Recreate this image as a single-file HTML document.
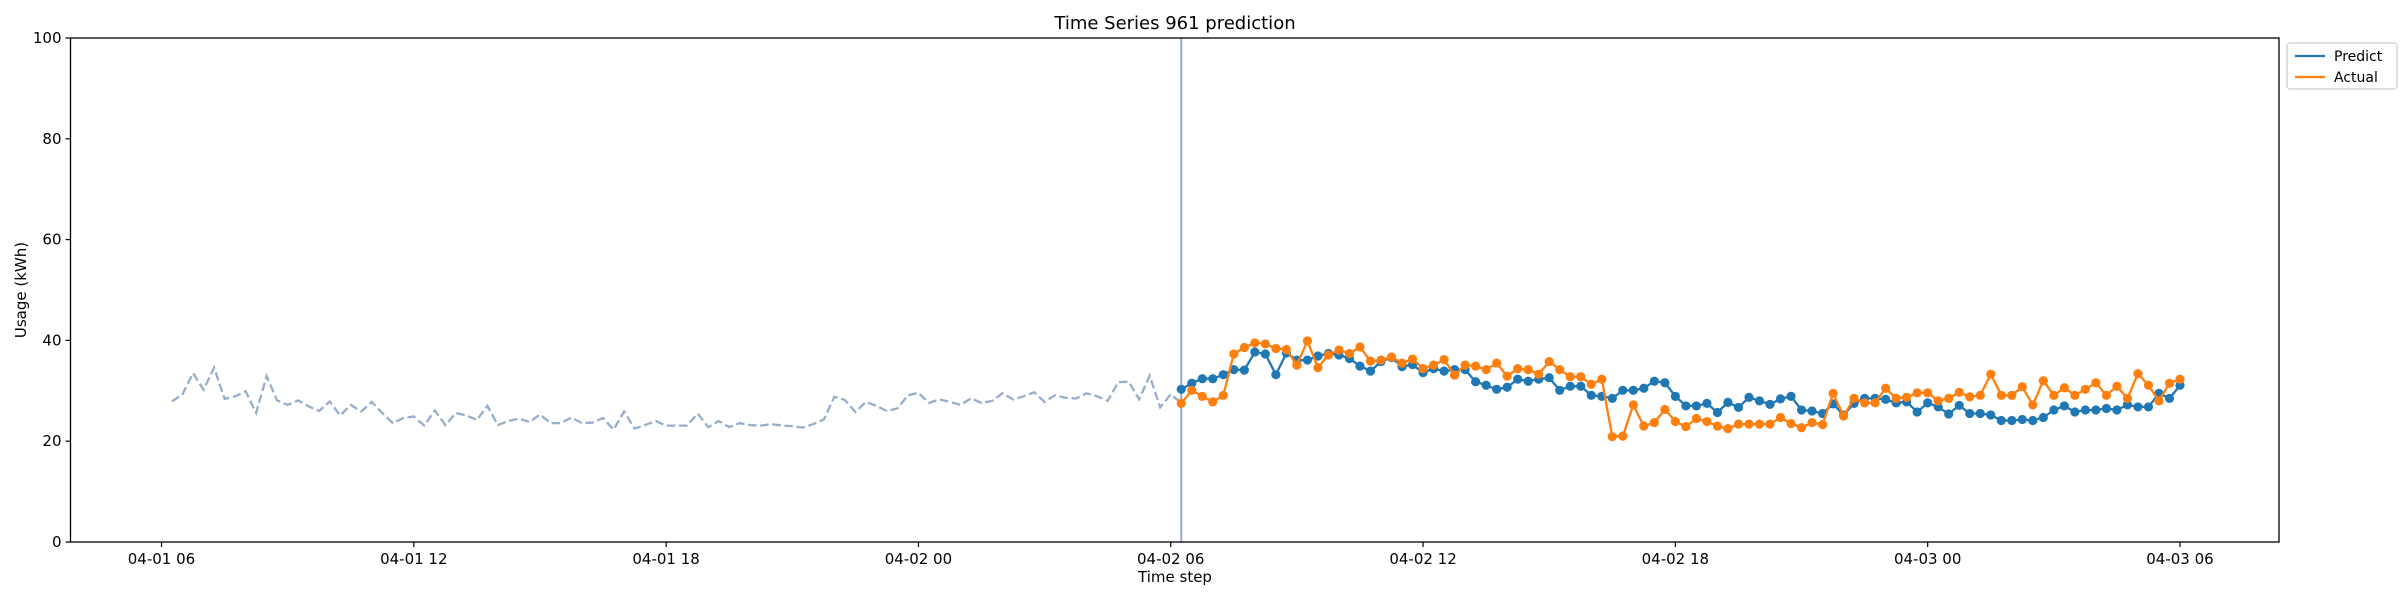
<!DOCTYPE html>
<html><head><meta charset="utf-8"><style>
html,body{margin:0;padding:0;background:#fff;}
svg{display:block;font-family:"DejaVu Sans","Liberation Sans",sans-serif;}
</style></head><body>
<svg id="chart" width="2400" height="600" viewBox="0 0 2400 600" xmlns="http://www.w3.org/2000/svg">
<rect width="2400" height="600" fill="#fff"/>
<text x="1175" y="29" font-size="18" text-anchor="middle">Time Series 961 prediction</text>
<g id="plot"></g>
<g id="axes"></g>
<text x="1175" y="582" font-size="15" text-anchor="middle">Time step</text>
<text x="0" y="0" font-size="15" text-anchor="middle" transform="translate(26,290) rotate(-90)">Usage (kWh)</text>
<g>
<rect x="2287" y="43" width="110" height="46" rx="3" fill="#fff" stroke="#ccc" stroke-width="1.2"/>
<g>
<line x1="2295" y1="56" x2="2325" y2="56" stroke="#1f77b4" stroke-width="2.3"/>
<text x="2334" y="61" font-size="14">Predict</text></g>
<g>
<line x1="2295" y1="77" x2="2325" y2="77" stroke="#ff7f0e" stroke-width="2.3"/>
<text x="2334" y="82" font-size="14">Actual</text></g>
</g>
</svg>
<script>
const historyValues=[27.9,29.3,33.5,30.2,34.6,28.4,28.9,29.9,25.6,32.9,28.1,27.2,28.1,26.9,26.0,27.9,25.1,27.2,25.9,27.8,25.6,23.6,24.6,24.9,23.1,26.1,23.2,25.6,25.1,24.2,27.0,23.2,24.0,24.5,23.8,25.3,23.6,23.6,24.7,23.6,23.7,24.6,22.3,25.9,22.5,23.2,24.0,23.1,23.1,23.1,25.5,22.8,24.0,22.8,23.6,23.2,23.1,23.4,23.1,23.0,
22.7,23.4,24.3,28.8,28.2,25.8,27.8,27.0,26.0,26.5,29.1,29.6,27.6,28.3,27.8,27.2,28.5,27.6,28.0,29.5,28.3,28.9,29.7,27.8,29.1,28.6,28.5,29.5,28.9,28.0,31.7,31.8,28.3,33.0,26.7,29.3,27.6];
const predictValues=[30.3,31.5,32.4,32.4,33.2,34.2,34.1,37.7,37.3,33.2,37.5,36.1,36.1,36.9,37.4,37.1,36.4,34.9,33.9,35.8,36.6,34.8,35.2,33.6,34.4,33.9,34.2,34.2,31.8,31.1,30.3,30.7,32.3,31.9,32.3,32.6,30.1,30.9,30.9,29.1,28.9,28.5,30.1,30.1,30.5,31.9,31.6,28.9,27.0,27.0,27.5,25.7,27.7,26.7,28.7,28.0,27.3,28.4,28.9,26.2,26.0,25.5,27.4,25.2,27.5,28.5,28.5,28.3,27.6,27.8,25.8,27.6,26.8,25.4,27.1,25.5,25.5,25.2,24.1,24.1,24.3,24.1,24.7,26.2,27.0,25.8,26.2,26.2,26.5,26.2,27.2,26.8,26.8,29.5,28.5,31.1];
const actualValues=[27.5,30.1,28.9,27.8,29.1,37.3,38.6,39.5,39.3,38.4,38.2,35.1,39.9,34.6,37.1,38.1,37.4,38.7,35.9,36.1,36.7,35.5,36.3,34.4,35.1,36.2,33.1,35.1,34.9,34.2,35.5,32.9,34.4,34.2,33.3,35.8,34.2,32.8,32.8,31.3,32.3,20.9,21.0,27.2,23.0,23.7,26.3,23.9,22.9,24.5,23.9,23.0,22.5,23.4,23.4,23.4,23.4,24.7,23.5,22.7,23.7,23.3,29.5,25.0,28.5,27.6,27.6,30.5,28.5,28.7,29.6,29.6,28.0,28.5,29.7,28.8,29.1,33.3,29.1,29.1,30.8,27.2,32.0,29.1,30.6,29.1,30.3,31.6,29.1,30.9,28.5,33.4,31.1,28.0,31.5,32.3];
const xTickLabels=["04-01 06","04-01 12","04-01 18","04-02 00","04-02 06","04-02 12","04-02 18","04-03 00","04-03 06"];
const yTickLabels=[0,20,40,60,80,100];
const historyStart=1, forecastStart=97;

const L=70.5,R=2279,T=38,B=542;
const x=i=>161.5+i*10.513;
const y=v=>B-(v/100)*(B-T);
const NS="http://www.w3.org/2000/svg";
const plot=document.getElementById('plot'), axes=document.getElementById('axes');
function mk(tag,attrs,parent){const e=document.createElementNS(NS,tag);for(const k in attrs)e.setAttribute(k,attrs[k]);parent.appendChild(e);return e;}

const hp=historyValues.map((v,k)=>x(historyStart+k).toFixed(1)+','+y(v).toFixed(1)).join(' ');
const h=mk('polyline',{points:hp,fill:'none',stroke:'#97aecb','stroke-width':2.3,'stroke-dasharray':'8.5,3.7'},plot);



const vl=mk('line',{x1:x(forecastStart),x2:x(forecastStart),y1:T,y2:B,stroke:'#9aa8d0','stroke-width':2},plot);



function series(vals,color,name){
  const g=mk('g',{},plot);
  
  
  const pts=vals.map((v,k)=>x(forecastStart+k).toFixed(1)+','+y(v).toFixed(1)).join(' ');
  mk('polyline',{points:pts,fill:'none',stroke:color,'stroke-width':2.3},g);
  vals.forEach((v,k)=>{
    const c=mk('circle',{cx:x(forecastStart+k),cy:y(v),r:4.6,fill:color},g);
    
    
  });
}
series(predictValues,'#1f77b4','predict');
series(actualValues,'#ff7f0e','actual');

mk('rect',{x:L,y:T,width:R-L,height:B-T,fill:'none',stroke:'#000','stroke-width':1.3},axes);
xTickLabels.forEach((lab,n)=>{
  const xx=x(n*24);
  mk('line',{x1:xx,x2:xx,y1:B,y2:B+5,stroke:'#000','stroke-width':1.2},axes);
  const t=mk('text',{x:xx,y:B+22,'font-size':15,'text-anchor':'middle'},axes);
  t.textContent=lab;
  
  
});
yTickLabels.forEach(v=>{
  const yy=y(v);
  mk('line',{x1:L-5,x2:L,y1:yy,y2:yy,stroke:'#000','stroke-width':1.2},axes);
  const t=mk('text',{x:L-9,y:yy+5,'font-size':15,'text-anchor':'end'},axes);
  t.textContent=v;
  
  
});
</script>
</body></html>
